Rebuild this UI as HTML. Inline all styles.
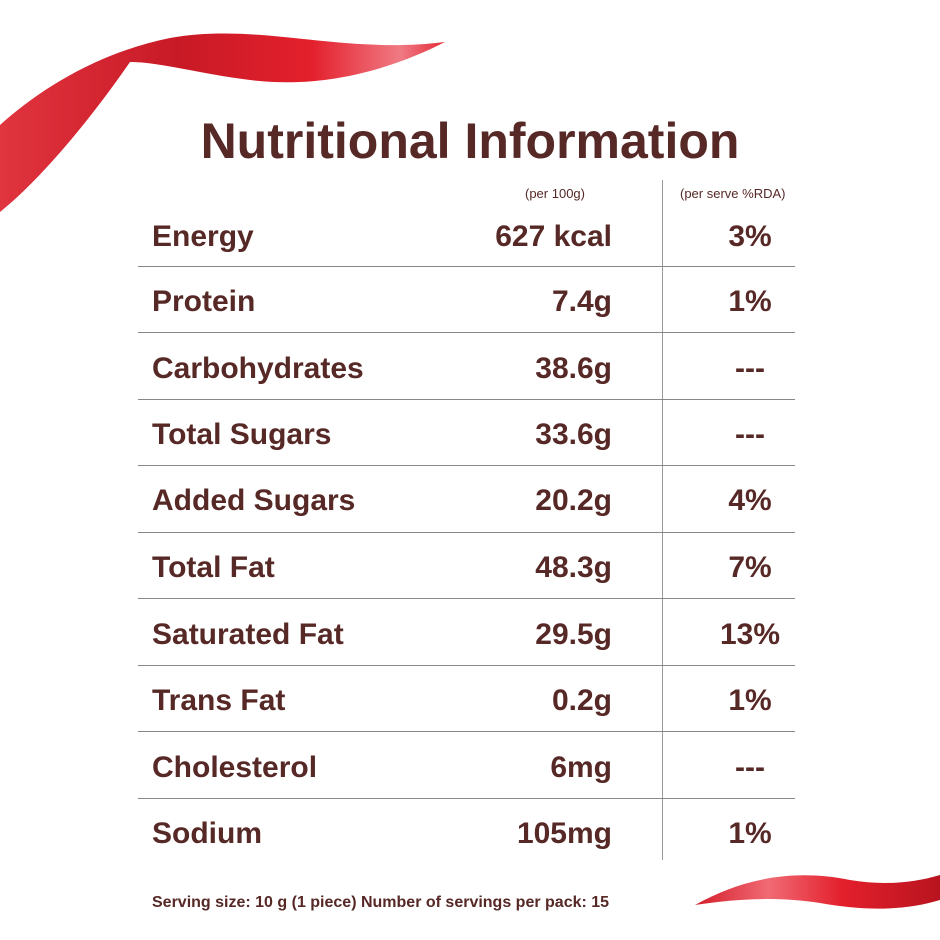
<!DOCTYPE html>
<html><head><meta charset="utf-8"><style>
body{margin:0;width:940px;height:940px;background:#fff;position:relative;overflow:hidden;font-family:"Liberation Sans",sans-serif;color:#562826}
.t{position:absolute;white-space:nowrap;font-weight:bold}
.l{left:152px;font-size:30px}
.v{right:328px;font-size:30px;text-align:right}
.p{left:690px;width:120px;text-align:center;font-size:30px}
.h{position:absolute;left:138px;width:657px;height:1px;background:#888}
</style></head><body>
<svg width="940" height="940" style="position:absolute;left:0;top:0">
<defs>
<linearGradient id="g1" x1="0" y1="0" x2="1" y2="0"><stop offset="0" stop-color="#e0343f"/><stop offset="0.4" stop-color="#c81a26"/><stop offset="0.7" stop-color="#e3202c"/><stop offset="0.9" stop-color="#f07a84"/><stop offset="1" stop-color="#e32a36"/></linearGradient>
<linearGradient id="g2" x1="0" y1="0" x2="1" y2="0"><stop offset="0" stop-color="#d41e2a"/><stop offset="0.3" stop-color="#f06a74"/><stop offset="0.6" stop-color="#e3202c"/><stop offset="1" stop-color="#b8141f"/></linearGradient>
</defs>
<path d="M0,125 C50,80 110,50 170,38 C260,22 340,55 445,42 C400,65 330,90 250,80 C200,74 160,62 130,62 C90,120 40,180 0,212 Z" fill="url(#g1)"/>
<path d="M695,905 C740,880 790,868 850,880 C880,885 910,884 940,875 L940,900 C900,912 860,910 820,903 C780,897 740,898 695,905 Z" fill="url(#g2)"/>
</svg>
<div class="t" style="left:0;width:940px;text-align:center;top:112px;font-size:50px">Nutritional Information</div>
<div class="t" style="left:525px;top:186px;font-size:13px;font-weight:normal">(per 100g)</div>
<div class="t" style="left:680px;top:186px;font-size:13px;font-weight:normal">(per serve %RDA)</div>
<div style="position:absolute;left:662px;top:180px;width:1px;height:680px;background:#999"></div>
<div class="h" style="top:266px"></div><div class="h" style="top:332px"></div><div class="h" style="top:399px"></div><div class="h" style="top:465px"></div><div class="h" style="top:532px"></div><div class="h" style="top:598px"></div><div class="h" style="top:665px"></div><div class="h" style="top:731px"></div><div class="h" style="top:798px"></div>
<div class="t l" style="top:220px">Energy</div><div class="t v" style="top:220px">627 kcal</div><div class="t p" style="top:220px">3%</div>
<div class="t l" style="top:285px">Protein</div><div class="t v" style="top:285px">7.4g</div><div class="t p" style="top:285px">1%</div>
<div class="t l" style="top:352px">Carbohydrates</div><div class="t v" style="top:352px">38.6g</div><div class="t p" style="top:352px">---</div>
<div class="t l" style="top:418px">Total Sugars</div><div class="t v" style="top:418px">33.6g</div><div class="t p" style="top:418px">---</div>
<div class="t l" style="top:484px">Added Sugars</div><div class="t v" style="top:484px">20.2g</div><div class="t p" style="top:484px">4%</div>
<div class="t l" style="top:551px">Total Fat</div><div class="t v" style="top:551px">48.3g</div><div class="t p" style="top:551px">7%</div>
<div class="t l" style="top:618px">Saturated Fat</div><div class="t v" style="top:618px">29.5g</div><div class="t p" style="top:618px">13%</div>
<div class="t l" style="top:684px">Trans Fat</div><div class="t v" style="top:684px">0.2g</div><div class="t p" style="top:684px">1%</div>
<div class="t l" style="top:751px">Cholesterol</div><div class="t v" style="top:751px">6mg</div><div class="t p" style="top:751px">---</div>
<div class="t l" style="top:817px">Sodium</div><div class="t v" style="top:817px">105mg</div><div class="t p" style="top:817px">1%</div>
<div class="t" style="left:152px;top:894px;font-size:16px">Serving size: 10 g (1 piece) Number of servings per pack: 15</div>
</body></html>
